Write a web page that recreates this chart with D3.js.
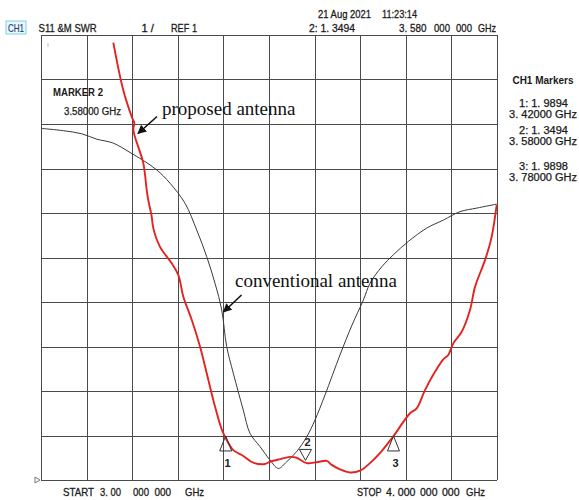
<!DOCTYPE html>
<html><head><meta charset="utf-8">
<script src="https://cdn.jsdelivr.net/npm/d3@7/dist/d3.min.js"></script>
<style>html,body{margin:0;padding:0;background:#fff;}svg{display:block;}</style>
</head><body>
<svg id="chart" width="579" height="500"></svg>
<script>
// ---- data (frequency in GHz, SWR) ----
const proposedFreq = [3.1586,3.1805,3.2002,3.2046,3.2024,3.2243,3.2318,3.2353,3.2428,3.2463,3.2610,3.2866,3.3011,3.3121,3.3305,3.3487,3.3634,3.3816,3.3969,3.4072,3.4217,3.4436,3.4656,3.4912,3.5022,3.5241,3.5461,3.5607,3.5827,3.6046,3.6265,3.6375,3.6557,3.6776,3.6996,3.7215,3.7471,3.7726,3.8092,3.8239,3.8421,3.8640,3.8822,3.8932,3.9042,3.9226,3.9408,3.9518,3.9737,3.9884,3.9993];
const proposedSWR  = [10.83,9.76,9.13,9.02,8.87,8.12,7.52,7.29,6.92,6.66,6.24,5.87,5.61,5.12,4.60,4.00,3.40,2.65,2.12,1.90,1.67,1.54,1.39,1.36,1.41,1.47,1.52,1.50,1.38,1.40,1.43,1.34,1.24,1.17,1.21,1.38,1.65,1.98,2.50,2.61,3.02,3.43,3.71,3.81,4.07,4.33,4.82,5.34,5.94,6.47,7.18];
const conventionalFreq = [3.0015,3.0489,3.0893,3.1221,3.1586,3.1952,3.2243,3.2537,3.2829,3.3158,3.3414,3.3634,3.3816,3.3963,3.4072,3.4217,3.4436,3.4583,3.4803,3.5022,3.5204,3.5388,3.5607,3.5827,3.6009,3.6228,3.6557,3.6820,3.7068,3.7215,3.7471,3.7726,3.8055,3.8458,3.8822,3.9189,3.9555,3.9993];
const conventionalSWR  = [8.90,8.85,8.78,8.66,8.57,8.36,8.18,7.97,7.67,7.22,6.62,6.02,5.42,4.82,4.00,3.40,2.57,2.05,1.75,1.45,1.26,1.41,1.64,1.97,2.35,2.91,3.81,4.48,5.04,5.42,5.79,6.06,6.36,6.66,6.84,7.03,7.11,7.20];
const xTicks = [3.0,3.1,3.2,3.3,3.4,3.5,3.6,3.7,3.8,3.9,4.0];
const yTicks = [1,2,3,4,5,6,7,8,9,10,11];
const markerIds  = ["1","2","3"];
const markerFreq = [3.405,3.58,3.773];
const markerSWR  = [1.99,1.35,1.99];
const markerLabelFreq = ["3.42000","3.58000","3.78000"];
const markerLabelSWR  = ["1.9894","1.3494","1.9898"];

const svg = d3.select("#chart");
const L=41, R=497, T=35, B=480;
const x = d3.scaleLinear().domain([3,4]).range([L,R]);
const y = d3.scaleLinear().domain([1,11]).range([B,T]);

// grid
const grid = svg.append("g").attr("stroke","#4a4a4a").attr("stroke-width",1.1).attr("shape-rendering","crispEdges");
grid.selectAll("line.v").data(xTicks).join("line").attr("class","v")
  .attr("x1",d=>Math.round(x(d))+0.5).attr("x2",d=>Math.round(x(d))+0.5).attr("y1",y(11)).attr("y2",y(1));
grid.selectAll("line.h").data(yTicks).join("line").attr("class","h")
  .attr("y1",d=>Math.round(y(d))+0.5).attr("y2",d=>Math.round(y(d))+0.5).attr("x1",x(3)).attr("x2",x(4));

// small reference triangle at bottom-left
svg.append("path").attr("d",`M${L-6},${y(1)-3} L${L-1},${y(1)} L${L-6},${y(1)+3} Z`)
  .attr("fill","none").attr("stroke","#777").attr("stroke-width",1);
svg.append("line").attr("x1",48).attr("x2",48).attr("y1",43).attr("y2",47).attr("stroke","#8fd3e8").attr("stroke-width",1);

const line = d3.line().x(d=>x(d[0])).y(d=>y(d[1])).curve(d3.curveCatmullRom.alpha(0.5));
svg.append("path").datum(conventionalFreq.map((f,i)=>[f,conventionalSWR[i]]))
  .attr("d",line).attr("fill","none").attr("stroke","#3a3a3a").attr("stroke-width",1);
svg.append("path").datum(proposedFreq.map((f,i)=>[f,proposedSWR[i]]))
  .attr("d",line).attr("fill","none").attr("stroke","#e3231f").attr("stroke-width",1.9);

// markers
markerIds.forEach((id,i)=>{
  const mx=x(markerFreq[i]), my=y(markerSWR[i]);
  if(id==="2"){
    const ap=my-4;
    svg.append("path").attr("d",`M${mx},${ap} L${mx-6},${ap-11} L${mx+6},${ap-11} Z`)
      .attr("fill","none").attr("stroke","#333").attr("stroke-width",1);
    svg.append("text").attr("x",mx+2).attr("y",ap-14).attr("text-anchor","middle")
      .attr("font-family","Liberation Sans, Arial, sans-serif").attr("font-size",11).attr("font-weight","bold").attr("fill","#222").text(id);
  } else {
    svg.append("path").attr("d",`M${mx},${my} L${mx-6},${my+15} L${mx+6},${my+15} Z`)
      .attr("fill","none").attr("stroke","#333").attr("stroke-width",1);
    svg.append("text").attr("x",mx+2).attr("y",my+31).attr("text-anchor","middle")
      .attr("font-family","Liberation Sans, Arial, sans-serif").attr("font-size",11).attr("font-weight","bold").attr("fill","#222").text(id);
  }
});

// text helper
function fit(xp,yp,str,w,opt={}){
  const t=svg.append("text").attr("x",xp).attr("y",yp)
    .attr("font-family",opt.family||"Liberation Sans, Arial, sans-serif")
    .attr("font-size",opt.size||11.5).attr("font-weight",opt.weight||"normal")
    .attr("fill",opt.fill||"#1a1a1a").text(str);
  if(opt.stroke) t.attr("stroke",opt.fill||"#1a1a1a").attr("stroke-width",opt.stroke);
  if(w) t.attr("textLength",w).attr("lengthAdjust","spacingAndGlyphs");
  return t;
}
const hd={stroke:0.3};
// header
fit(318,17.5,"21 Aug 2021",53,hd); fit(382,17.5,"11:23:14",35,hd);
svg.append("rect").attr("x",6).attr("y",21).attr("width",20).attr("height",13).attr("fill","#eaf8fc").attr("stroke","#7fd0e6").attr("stroke-width",1);
fit(8,31.5,"CH1",16,{fill:"#1d3f73",stroke:0.2});
fit(38.6,31.5,"S11 &M SWR",58,hd);
fit(141.5,31.5,"1  /",12.5,hd);
fit(171,31.5,"REF 1",26,hd);
fit(309,31.5,"2: 1. 3494",46,hd);
fit(399,31.5,"3. 580",27.5,hd); fit(434,31.5,"000",16,hd); fit(456,31.5,"000",16,hd); fit(478,31.5,"GHz",18,hd);
// bottom
const by=495.5;
fit(63,by,"START",31,hd); fit(100,by,"3. 00",21,hd); fit(133,by,"000",16,hd); fit(154.4,by,"000",16.6,hd); fit(185,by,"GHz",19,hd);
fit(357,by,"STOP",24.6,hd); fit(386,by,"4. 000",29.5,hd); fit(420,by,"000",17.5,hd); fit(442,by,"000",17.6,hd); fit(466,by,"GHz",19,hd);
// left marker box
fit(53,95.5,"MARKER 2",50,{size:10,weight:"bold"});
fit(64,114.5,"3.58000 GHz",57,{size:10,stroke:0.25});
// right panel
const cx=543;
svg.append("text").attr("x",cx).attr("y",84).attr("text-anchor","middle").attr("font-family","Liberation Sans, Arial, sans-serif")
  .attr("font-size",10).attr("font-weight","bold").attr("fill","#1a1a1a").text("CH1 Markers");
const rows=[[103.5,114],[130.5,141],[166.5,177.5]];
markerIds.forEach((id,i)=>{
  fit(519,rows[i][0]+3.5,`${id}: ${markerLabelSWR[i].replace(".",". ")}`,49,{size:10,stroke:0.25});
  fit(509,rows[i][1]+3.5,`${markerLabelFreq[i].replace(".",". ")}   GHz`,68,{size:10,stroke:0.25});
});

// annotations
const serif="Liberation Serif, Times New Roman, serif";
fit(162,115,"proposed antenna",null,{family:serif,size:19,fill:"#111"});
fit(235,287,"conventional antenna",null,{family:serif,size:19,fill:"#111"});
svg.append("defs").append("marker").attr("id","ah").attr("viewBox","0 0 10 10").attr("refX",9).attr("refY",5)
  .attr("markerWidth",9).attr("markerHeight",9).attr("markerUnits","userSpaceOnUse").attr("orient","auto")
  .append("path").attr("d","M0,0 L10,5 L0,10 Z").attr("fill","#111");
svg.append("line").attr("x1",157).attr("y1",116.5).attr("x2",138).attr("y2",133.5).attr("stroke","#111").attr("stroke-width",1.6).attr("marker-end","url(#ah)");
svg.append("line").attr("x1",241.5).attr("y1",295).attr("x2",223.5).attr("y2",312).attr("stroke","#111").attr("stroke-width",1.6).attr("marker-end","url(#ah)");
</script>
</body></html>
